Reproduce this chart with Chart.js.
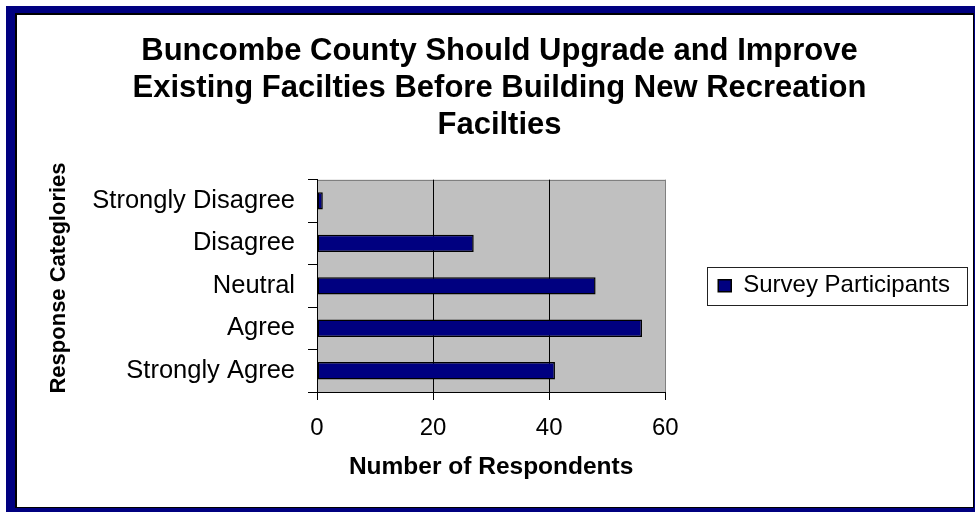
<!DOCTYPE html>
<html>
<head>
<meta charset="utf-8">
<script src="https://cdn.jsdelivr.net/npm/chart.js@4"></script>
<style>
  html, body { margin: 0; padding: 0; background: #fff; width: 975px; height: 512px; overflow: hidden; }
  #outer { position: absolute; left: 6px; top: 6px; width: 969px; height: 506px; background: #000080; }
  #inner { position: absolute; left: 15px; top: 13px; width: 959px; height: 495px; background: #fff;
           box-sizing: border-box; border-top: 2px solid #000; border-left: 2px solid #000;
           border-right: 1px solid #000; border-bottom: 1px solid #000; }
  #chart { position: absolute; left: 0; top: 0; z-index: 1; }
</style>
</head>
<body>
<div id="outer"></div>
<div id="inner"></div>
<canvas id="chart" width="975" height="512"></canvas>
<script>
const titleLines = [
    "Buncombe County Should Upgrade and Improve",
    "Existing Facilties Before Building New Recreation",
    "Facilties"
];
const categories = ["Strongly Disagree", "Disagree", "Neutral", "Agree", "Strongly Agree"];
const participants = [1, 27, 48, 56, 41];
const xTicks = [0, 20, 40, 60];
const seriesName = "Survey Participants";
const xTitle = "Number of Respondents";
const yTitle = "Response Categlories";

const FONT = "Arial, 'Liberation Sans', sans-serif";

// grey plot area + grey top/right border, bordered legend box, y axis title
const plotFrame = {
    id: "plotFrame",
    beforeDraw(chart) {
        const { ctx, chartArea: a } = chart;
        ctx.save();
        ctx.fillStyle = "#C0C0C0";
        ctx.fillRect(a.left, a.top, a.right - a.left, a.bottom - a.top);
        ctx.strokeStyle = "#808080";
        ctx.lineWidth = 1;
        ctx.beginPath();
        ctx.moveTo(a.left, Math.round(a.top) + 0.5);
        ctx.lineTo(Math.round(a.right) + 0.5, Math.round(a.top) + 0.5);
        ctx.lineTo(Math.round(a.right) + 0.5, a.bottom);
        ctx.stroke();
        ctx.restore();
    },
    afterDraw(chart) {
        const { ctx } = chart;
        const hb = chart.legend.legendHitBoxes[0];
        ctx.save();
        if (hb) {
            const cy = hb.top + hb.height / 2;
            ctx.strokeStyle = "#222";
            ctx.lineWidth = 1;
            ctx.strokeRect(Math.round(hb.left - 11) + 0.5, Math.round(cy - 19) + 0.5,
                           Math.round(hb.width + 28), 38);
        }
        // axis title sits a bit above the plot middle, like the original
        ctx.translate(59, 278);
        ctx.rotate(-Math.PI / 2);
        ctx.fillStyle = "#000";
        ctx.font = "bold 22px " + FONT;
        ctx.textAlign = "center";
        ctx.textBaseline = "middle";
        ctx.fillText(yTitle, 0, 0);
        ctx.restore();
    }
};

new Chart(document.getElementById("chart"), {
    type: "bar",
    data: {
        labels: categories,
        datasets: [{
            label: seriesName,
            data: participants,
            backgroundColor: "#000080",
            borderColor: "#000",
            borderWidth: 1.5,
            borderSkipped: false,
            barPercentage: 0.41,
            categoryPercentage: 1
        }]
    },
    options: {
        indexAxis: "y",
        responsive: false,
        animation: false,
        devicePixelRatio: 1,
        layout: { padding: { left: 39, right: 15, top: 0, bottom: 0 } },
        plugins: {
            tooltip: { enabled: false },
            title: {
                display: true,
                text: titleLines,
                color: "#000",
                font: { family: FONT, size: 31, weight: "bold", lineHeight: 1.19 },
                padding: { top: 33, bottom: 36 }
            },
            legend: {
                position: "right",
                fullSize: false,
                maxWidth: 400,
                labels: {
                    color: "#000",
                    font: { family: FONT, size: 24 },
                    boxWidth: 13,
                    boxHeight: 12,
                    padding: 53
                }
            }
        },
        scales: {
            x: {
                min: xTicks[0],
                max: xTicks[xTicks.length - 1],
                afterFit(s) { s.height = 120; },
                ticks: {
                    stepSize: xTicks[1] - xTicks[0],
                    color: "#000",
                    font: { family: FONT, size: 24 },
                    padding: 14
                },
                grid: {
                    color: c => (c.tick && c.tick.value === xTicks[xTicks.length - 1]) ? "#808080" : "#000",
                    tickColor: "#000",
                    tickLength: 8,
                    lineWidth: 1
                },
                border: { color: "#000", width: 1 },
                title: {
                    display: true,
                    text: xTitle,
                    color: "#000",
                    font: { family: FONT, size: 24.5, weight: "bold", lineHeight: 1.2 },
                    padding: { top: 0, bottom: 30 }
                }
            },
            y: {
                afterFit(s) { s.width = 278; },
                ticks: {
                    color: "#000",
                    font: { family: FONT, size: 25.5 },
                    padding: 13
                },
                grid: {
                    drawOnChartArea: false,
                    color: "#000",
                    tickLength: 9
                },
                border: { color: "#000", width: 1 }
            }
        }
    },
    plugins: [plotFrame]
});
</script>
</body>
</html>
